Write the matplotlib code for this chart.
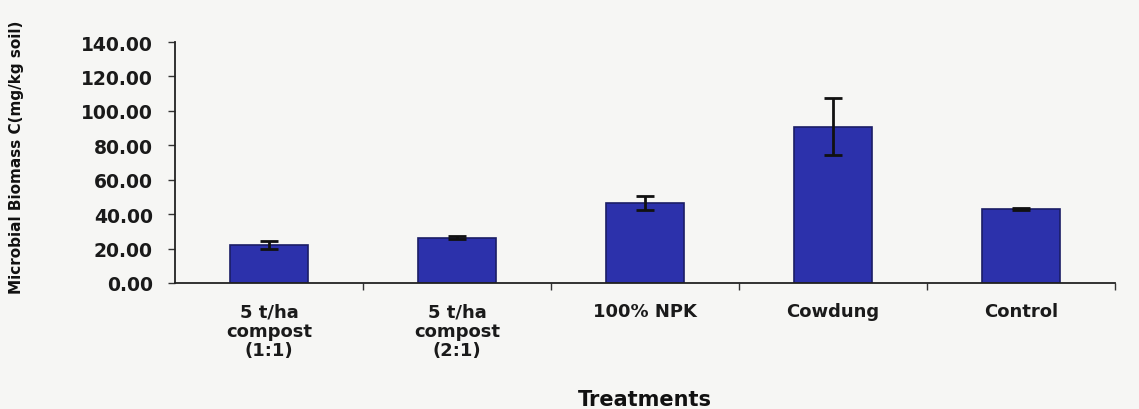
import numpy as np
import matplotlib
matplotlib.use("Agg")
from matplotlib import pyplot as plt

# data
treatments = ["5 t/ha\ncompost\n(1:1)", "5 t/ha\ncompost\n(2:1)", "100% NPK", "Cowdung", "Control"]
biomass_c = [22.3, 26.4, 46.3, 90.8, 42.8]
biomass_err = [2.3, 1.0, 4.0, 16.7, 0.5]
y_ticks = [0, 20, 40, 60, 80, 100, 120, 140]

plt.rcParams["font.family"] = ["DejaVu Sans"]
plt.rcParams["font.weight"] = "bold"

fig = plt.figure(figsize=(11.39, 4.10), dpi=100, facecolor="#f6f6f4")
ax = fig.add_axes([175 / 1139, 1 - 284 / 410, 940 / 1139, 241 / 410])
ax.set_facecolor("#f6f6f4")

x = np.arange(len(treatments))
ax.bar(x, biomass_c, width=0.42, color="#2c31ab", edgecolor="#1b1d66", linewidth=1.2,
       yerr=biomass_err, capsize=6.5,
       error_kw=dict(ecolor="#111111", elinewidth=2, capthick=2))

ax.set_xlim(-0.5, len(treatments) - 0.5)
ax.set_ylim(0, 140)
ax.set_yticks(y_ticks)
ax.set_yticklabels(["%.2f" % v for v in y_ticks])

ax.set_xticks(x)
ax.set_xticklabels(treatments, fontsize=13, linespacing=1.1, color="#1a1a1a")
ax.set_xticks(np.arange(len(treatments)) + 0.5, minor=True)
ax.tick_params(axis="x", which="major", length=0, pad=14)
ax.tick_params(axis="x", which="minor", length=5, width=1, color="#333333")
ax.tick_params(axis="y", length=5, width=1, color="#333333", labelsize=13.5,
               labelcolor="#1a1a1a", pad=11)

for s in ["top", "right"]:
    ax.spines[s].set_visible(False)
for s in ["left", "bottom"]:
    ax.spines[s].set_color("#222222")
    ax.spines[s].set_linewidth(1.3)

ax.set_xlabel("Treatments", fontsize=15, fontweight="bold", color="#111111")
ax.xaxis.set_label_coords(0.5, -(400 - 284) / 241)
ax.xaxis.label.set_va("center")

ax.set_ylabel("Microbial Biomass C(mg/kg soil)", fontsize=11, fontweight="bold",
              color="#111111", va="center")
ax.yaxis.set_label_coords(-(175 - 17) / 940, 0.525)

fig.savefig("out.png", dpi=100, facecolor=fig.get_facecolor())
